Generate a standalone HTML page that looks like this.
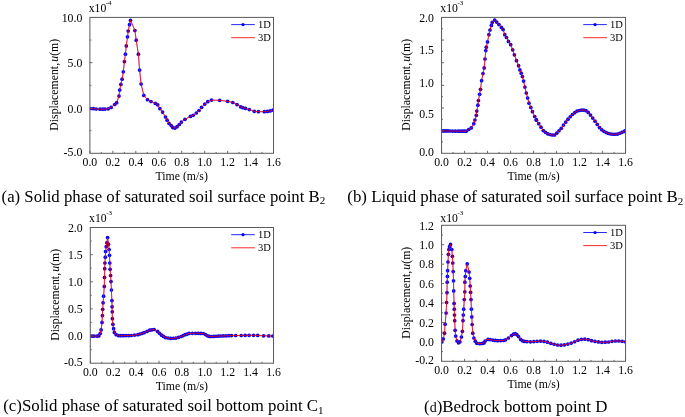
<!DOCTYPE html>
<html><head><meta charset="utf-8"><title>Figure</title>
<style>html,body{margin:0;padding:0;background:#fff;font-family:"Liberation Serif",serif}svg{display:block;will-change:transform;opacity:0.999}</style>
</head><body>
<svg width="685" height="417" viewBox="0 0 685 417" font-family="'Liberation Serif', serif" fill="#000000">
<rect width="685" height="417" fill="#ffffff"/>
<text x="89.90" y="165.80" font-size="11.8" text-anchor="middle" >0.0</text>
<text x="112.85" y="165.80" font-size="11.8" text-anchor="middle" >0.2</text>
<text x="135.80" y="165.80" font-size="11.8" text-anchor="middle" >0.4</text>
<text x="158.75" y="165.80" font-size="11.8" text-anchor="middle" >0.6</text>
<text x="181.70" y="165.80" font-size="11.8" text-anchor="middle" >0.8</text>
<text x="204.65" y="165.80" font-size="11.8" text-anchor="middle" >1.0</text>
<text x="227.60" y="165.80" font-size="11.8" text-anchor="middle" >1.2</text>
<text x="250.55" y="165.80" font-size="11.8" text-anchor="middle" >1.4</text>
<text x="273.50" y="165.80" font-size="11.8" text-anchor="middle" >1.6</text>
<text x="82.30" y="21.50" font-size="11.8" text-anchor="end" >10.0</text>
<text x="82.30" y="66.60" font-size="11.8" text-anchor="end" >5.0</text>
<text x="82.30" y="112.80" font-size="11.8" text-anchor="end" >0.0</text>
<text x="82.30" y="156.00" font-size="11.8" text-anchor="end" >-5.0</text>
<text x="88.70" y="11.70" font-size="11.7">x10<tspan font-size="7" dy="-7.0" dx="-0.5">-4</tspan></text>
<text x="181.70" y="180.40" font-size="11.8" text-anchor="middle" >Time (m/s)</text>
<text transform="translate(58.40,84.75) rotate(-90)" font-size="11.8" text-anchor="middle">Displacement,<tspan font-style="italic" dx="1.2">u</tspan>(m)</text>
<path d="M231.20,24.60H254.80" stroke="#0000ff" stroke-width="0.85"/>
<circle cx="243.00" cy="24.60" r="1.6" fill="#0000ff"/>
<path d="M231.20,37.70H254.80" stroke="#ff0000" stroke-width="0.85"/>
<text x="258.00" y="28.20" font-size="10.5" text-anchor="start" >1D</text>
<text x="258.00" y="41.30" font-size="10.5" text-anchor="start" >3D</text>
<clipPath id="c1"><rect x="89.90" y="17.40" width="183.60" height="135.90"/></clipPath>
<g clip-path="url(#c1)">
<path d="M90.4,108.5 93.3,108.7 96.2,109.0 100.0,109.2 102.7,109.2 105.0,109.1 108.2,108.8 111.1,107.4 114.7,104.5 116.7,102.7 119.0,96.1 119.7,90.1 120.9,84.4 122.1,79.2 123.3,71.8 124.4,61.6 125.4,54.2 126.3,45.9 127.5,36.8 128.2,31.0 129.5,24.7 130.5,20.3 134.9,30.5 136.2,40.2 138.4,54.2 139.6,70.1 141.1,84.0 143.8,95.4 147.5,99.7 151.0,101.5 155.3,103.4 157.7,104.8 159.9,108.7 162.6,112.1 165.5,117.0 167.1,120.2 169.0,123.4 171.2,125.6 172.8,127.6 175.0,128.1 177.1,126.7 179.3,124.5 181.4,122.1 185.0,119.3 190.4,116.4 193.1,115.3 196.3,113.0 199.0,110.5 201.6,107.3 204.8,104.1 207.8,101.7 211.5,100.1 219.7,100.3 227.6,101.3 232.8,102.5 237.0,104.6 240.6,106.8 242.8,107.7 245.5,108.4 249.3,109.6 254.3,111.3 258.4,111.7 264.3,111.7 267.4,111.4 270.1,110.9 272.9,110.1" stroke="#0000ff" stroke-width="0.4" fill="none"/>
<g fill="#0000ff"><circle cx="90.40" cy="108.50" r="1.85"/><circle cx="93.30" cy="108.70" r="1.85"/><circle cx="96.20" cy="109.00" r="1.85"/><circle cx="100.00" cy="109.20" r="1.85"/><circle cx="102.70" cy="109.20" r="1.85"/><circle cx="105.00" cy="109.10" r="1.85"/><circle cx="108.20" cy="108.80" r="1.85"/><circle cx="111.10" cy="107.40" r="1.85"/><circle cx="114.70" cy="104.50" r="1.85"/><circle cx="116.70" cy="102.70" r="1.85"/><circle cx="119.00" cy="96.10" r="1.85"/><circle cx="119.70" cy="90.10" r="1.85"/><circle cx="120.90" cy="84.40" r="1.85"/><circle cx="122.10" cy="79.20" r="1.85"/><circle cx="123.30" cy="71.80" r="1.85"/><circle cx="124.40" cy="61.60" r="1.85"/><circle cx="125.40" cy="54.20" r="1.85"/><circle cx="126.30" cy="45.90" r="1.85"/><circle cx="127.50" cy="36.80" r="1.85"/><circle cx="128.20" cy="31.00" r="1.85"/><circle cx="129.50" cy="24.70" r="1.85"/><circle cx="130.50" cy="20.30" r="1.85"/><circle cx="134.90" cy="30.50" r="1.85"/><circle cx="136.20" cy="40.20" r="1.85"/><circle cx="138.40" cy="54.20" r="1.85"/><circle cx="139.60" cy="70.10" r="1.85"/><circle cx="141.10" cy="84.00" r="1.85"/><circle cx="143.80" cy="95.40" r="1.85"/><circle cx="147.50" cy="99.70" r="1.85"/><circle cx="151.00" cy="101.50" r="1.85"/><circle cx="155.30" cy="103.40" r="1.85"/><circle cx="157.70" cy="104.80" r="1.85"/><circle cx="159.90" cy="108.70" r="1.85"/><circle cx="162.60" cy="112.10" r="1.85"/><circle cx="165.50" cy="117.00" r="1.85"/><circle cx="167.10" cy="120.20" r="1.85"/><circle cx="169.00" cy="123.40" r="1.85"/><circle cx="171.20" cy="125.60" r="1.85"/><circle cx="172.80" cy="127.60" r="1.85"/><circle cx="175.00" cy="128.10" r="1.85"/><circle cx="177.10" cy="126.70" r="1.85"/><circle cx="179.30" cy="124.50" r="1.85"/><circle cx="181.40" cy="122.10" r="1.85"/><circle cx="185.00" cy="119.30" r="1.85"/><circle cx="190.40" cy="116.40" r="1.85"/><circle cx="193.10" cy="115.30" r="1.85"/><circle cx="196.30" cy="113.00" r="1.85"/><circle cx="199.00" cy="110.50" r="1.85"/><circle cx="201.60" cy="107.30" r="1.85"/><circle cx="204.80" cy="104.10" r="1.85"/><circle cx="207.80" cy="101.70" r="1.85"/><circle cx="211.50" cy="100.10" r="1.85"/><circle cx="219.70" cy="100.30" r="1.85"/><circle cx="227.60" cy="101.30" r="1.85"/><circle cx="232.80" cy="102.50" r="1.85"/><circle cx="237.00" cy="104.60" r="1.85"/><circle cx="240.60" cy="106.80" r="1.85"/><circle cx="242.80" cy="107.70" r="1.85"/><circle cx="245.50" cy="108.40" r="1.85"/><circle cx="249.30" cy="109.60" r="1.85"/><circle cx="254.30" cy="111.30" r="1.85"/><circle cx="258.40" cy="111.70" r="1.85"/><circle cx="264.30" cy="111.70" r="1.85"/><circle cx="267.40" cy="111.40" r="1.85"/><circle cx="270.10" cy="110.90" r="1.85"/><circle cx="272.90" cy="110.10" r="1.85"/></g>
<path d="M90.4,108.5 93.3,108.7 96.2,109.0 100.0,109.2 102.7,109.2 105.0,109.1 108.2,108.8 111.1,107.4 114.7,104.5 116.7,102.7 119.0,96.1 119.7,90.1 120.9,84.4 122.1,79.2 123.3,71.8 124.4,61.6 125.4,54.2 126.3,45.9 127.5,36.8 128.2,31.0 129.5,24.7 130.5,20.3 134.9,30.5 136.2,40.2 138.4,54.2 139.6,70.1 141.1,84.0 143.8,95.4 147.5,99.7 151.0,101.5 155.3,103.4 157.7,104.8 159.9,108.7 162.6,112.1 165.5,117.0 167.1,120.2 169.0,123.4 171.2,125.6 172.8,127.6 175.0,128.1 177.1,126.7 179.3,124.5 181.4,122.1 185.0,119.3 190.4,116.4 193.1,115.3 196.3,113.0 199.0,110.5 201.6,107.3 204.8,104.1 207.8,101.7 211.5,100.1 219.7,100.3 227.6,101.3 232.8,102.5 237.0,104.6 240.6,106.8 242.8,107.7 245.5,108.4 249.3,109.6 254.3,111.3 258.4,111.7 264.3,111.7 267.4,111.4 270.1,110.9 272.9,110.1" stroke="#ff0000" stroke-width="0.8" fill="none" stroke-linejoin="round"/>
</g>
<rect x="89.90" y="17.40" width="183.60" height="135.90" fill="none" stroke="#5a5a5a" stroke-width="1"/>
<path d="M89.90,153.30v-2.5M101.38,153.30v-1.4M112.85,153.30v-2.5M124.33,153.30v-1.4M135.80,153.30v-2.5M147.28,153.30v-1.4M158.75,153.30v-2.5M170.23,153.30v-1.4M181.70,153.30v-2.5M193.18,153.30v-1.4M204.65,153.30v-2.5M216.12,153.30v-1.4M227.60,153.30v-2.5M239.07,153.30v-1.4M250.55,153.30v-2.5M262.02,153.30v-1.4M273.50,153.30v-2.5M89.90,40.05h1.4M89.90,62.70h2.5M89.90,85.35h1.4M89.90,108.00h2.5M89.90,130.65h1.4" stroke="#5a5a5a" stroke-width="0.9" fill="none"/>
<text x="1.60" y="202.20" font-size="16.75" text-anchor="start" >(a) Solid phase of saturated soil surface point B<tspan font-size="11" dy="2.2">2</tspan></text>
<text x="441.55" y="165.80" font-size="11.8" text-anchor="middle" >0.0</text>
<text x="464.55" y="165.80" font-size="11.8" text-anchor="middle" >0.2</text>
<text x="487.55" y="165.80" font-size="11.8" text-anchor="middle" >0.4</text>
<text x="510.55" y="165.80" font-size="11.8" text-anchor="middle" >0.6</text>
<text x="533.55" y="165.80" font-size="11.8" text-anchor="middle" >0.8</text>
<text x="556.55" y="165.80" font-size="11.8" text-anchor="middle" >1.0</text>
<text x="579.55" y="165.80" font-size="11.8" text-anchor="middle" >1.2</text>
<text x="602.55" y="165.80" font-size="11.8" text-anchor="middle" >1.4</text>
<text x="625.55" y="165.80" font-size="11.8" text-anchor="middle" >1.6</text>
<text x="433.95" y="21.60" font-size="11.8" text-anchor="end" >2.0</text>
<text x="433.95" y="54.20" font-size="11.8" text-anchor="end" >1.5</text>
<text x="433.95" y="86.50" font-size="11.8" text-anchor="end" >1.0</text>
<text x="433.95" y="118.30" font-size="11.8" text-anchor="end" >0.5</text>
<text x="433.95" y="155.80" font-size="11.8" text-anchor="end" >0.0</text>
<text x="440.35" y="11.70" font-size="11.7">x10<tspan font-size="7" dy="-7.0" dx="-0.5">-3</tspan></text>
<text x="533.55" y="180.40" font-size="11.8" text-anchor="middle" >Time (m/s)</text>
<text transform="translate(410.05,84.75) rotate(-90)" font-size="11.8" text-anchor="middle">Displacement,<tspan font-style="italic" dx="1.2">u</tspan>(m)</text>
<path d="M583.25,24.60H606.85" stroke="#0000ff" stroke-width="0.85"/>
<circle cx="595.05" cy="24.60" r="1.6" fill="#0000ff"/>
<path d="M583.25,37.70H606.85" stroke="#ff0000" stroke-width="0.85"/>
<text x="610.05" y="28.20" font-size="10.5" text-anchor="start" >1D</text>
<text x="610.05" y="41.30" font-size="10.5" text-anchor="start" >3D</text>
<clipPath id="c2"><rect x="441.55" y="17.40" width="184.00" height="135.90"/></clipPath>
<g clip-path="url(#c2)">
<path d="M441.7,130.9 450.0,131.0 458.0,131.2 466.2,131.2 468.7,129.5 471.2,127.9 473.8,123.7 474.9,120.0 476.3,115.3 476.8,111.1 477.9,105.2 478.4,100.5 479.6,94.3 480.5,89.3 481.6,80.7 483.0,73.6 484.2,67.9 485.0,59.0 485.8,50.6 486.3,47.2 487.5,41.9 488.9,34.7 490.0,30.0 491.4,25.4 492.2,22.4 494.7,20.1 496.7,22.1 498.9,24.6 501.4,27.4 503.1,29.6 504.8,34.7 506.5,37.5 508.5,41.4 510.7,44.7 512.7,49.8 514.4,54.8 516.5,60.7 518.6,65.7 519.9,69.9 521.2,73.2 522.4,76.6 523.6,81.1 524.9,87.1 526.3,93.0 527.6,98.0 529.0,103.2 530.8,107.4 532.5,111.7 534.7,116.5 536.2,119.7 540.3,126.1 543.5,131.0 547.5,133.7 551.5,135.0 554.7,135.0 557.9,132.1 561.1,128.5 564.3,124.0 567.1,120.2 570.0,117.0 573.2,113.8 577.2,110.9 581.2,110.1 585.2,110.1 588.4,112.5 591.6,116.5 595.7,122.1 599.2,127.3 602.1,130.1 605.3,132.2 609.3,133.8 613.3,134.3 617.3,134.2 621.4,132.6 625.4,130.8" stroke="#0000ff" stroke-width="0.4" fill="none"/>
<g fill="#0000ff"><circle cx="441.70" cy="130.90" r="1.85"/><circle cx="443.77" cy="130.93" r="1.85"/><circle cx="445.85" cy="130.95" r="1.85"/><circle cx="447.93" cy="130.97" r="1.85"/><circle cx="450.00" cy="131.00" r="1.85"/><circle cx="452.67" cy="131.07" r="1.85"/><circle cx="455.33" cy="131.13" r="1.85"/><circle cx="458.00" cy="131.20" r="1.85"/><circle cx="460.05" cy="131.20" r="1.85"/><circle cx="462.10" cy="131.20" r="1.85"/><circle cx="464.15" cy="131.20" r="1.85"/><circle cx="466.20" cy="131.20" r="1.85"/><circle cx="468.70" cy="129.50" r="1.85"/><circle cx="471.20" cy="127.90" r="1.85"/><circle cx="473.80" cy="123.70" r="1.85"/><circle cx="474.90" cy="120.00" r="1.85"/><circle cx="476.30" cy="115.30" r="1.85"/><circle cx="476.80" cy="111.10" r="1.85"/><circle cx="477.90" cy="105.20" r="1.85"/><circle cx="478.40" cy="100.50" r="1.85"/><circle cx="479.60" cy="94.30" r="1.85"/><circle cx="480.50" cy="89.30" r="1.85"/><circle cx="481.60" cy="80.70" r="1.85"/><circle cx="483.00" cy="73.60" r="1.85"/><circle cx="484.20" cy="67.90" r="1.85"/><circle cx="485.00" cy="59.00" r="1.85"/><circle cx="485.80" cy="50.60" r="1.85"/><circle cx="486.30" cy="47.20" r="1.85"/><circle cx="487.50" cy="41.90" r="1.85"/><circle cx="488.90" cy="34.70" r="1.85"/><circle cx="490.00" cy="30.00" r="1.85"/><circle cx="491.40" cy="25.40" r="1.85"/><circle cx="492.20" cy="22.40" r="1.85"/><circle cx="494.70" cy="20.10" r="1.85"/><circle cx="496.70" cy="22.10" r="1.85"/><circle cx="498.90" cy="24.60" r="1.85"/><circle cx="501.40" cy="27.40" r="1.85"/><circle cx="503.10" cy="29.60" r="1.85"/><circle cx="504.80" cy="34.70" r="1.85"/><circle cx="506.50" cy="37.50" r="1.85"/><circle cx="508.50" cy="41.40" r="1.85"/><circle cx="510.70" cy="44.70" r="1.85"/><circle cx="512.70" cy="49.80" r="1.85"/><circle cx="514.40" cy="54.80" r="1.85"/><circle cx="516.50" cy="60.70" r="1.85"/><circle cx="518.60" cy="65.70" r="1.85"/><circle cx="519.90" cy="69.90" r="1.85"/><circle cx="521.20" cy="73.20" r="1.85"/><circle cx="522.40" cy="76.60" r="1.85"/><circle cx="523.60" cy="81.10" r="1.85"/><circle cx="524.90" cy="87.10" r="1.85"/><circle cx="526.30" cy="93.00" r="1.85"/><circle cx="527.60" cy="98.00" r="1.85"/><circle cx="529.00" cy="103.20" r="1.85"/><circle cx="530.80" cy="107.40" r="1.85"/><circle cx="532.50" cy="111.70" r="1.85"/><circle cx="534.70" cy="116.50" r="1.85"/><circle cx="536.20" cy="119.70" r="1.85"/><circle cx="536.50" cy="120.17" r="1.85"/><circle cx="538.75" cy="123.68" r="1.85"/><circle cx="541.00" cy="127.17" r="1.85"/><circle cx="543.25" cy="130.62" r="1.85"/><circle cx="545.50" cy="132.35" r="1.85"/><circle cx="547.75" cy="133.78" r="1.85"/><circle cx="550.00" cy="134.51" r="1.85"/><circle cx="552.25" cy="135.00" r="1.85"/><circle cx="554.50" cy="135.00" r="1.85"/><circle cx="556.75" cy="133.14" r="1.85"/><circle cx="559.00" cy="130.86" r="1.85"/><circle cx="561.25" cy="128.29" r="1.85"/><circle cx="563.50" cy="125.12" r="1.85"/><circle cx="565.75" cy="122.03" r="1.85"/><circle cx="568.00" cy="119.21" r="1.85"/><circle cx="570.25" cy="116.75" r="1.85"/><circle cx="572.50" cy="114.50" r="1.85"/><circle cx="574.75" cy="112.68" r="1.85"/><circle cx="577.00" cy="111.05" r="1.85"/><circle cx="579.25" cy="110.49" r="1.85"/><circle cx="581.50" cy="110.10" r="1.85"/><circle cx="583.75" cy="110.10" r="1.85"/><circle cx="586.00" cy="110.70" r="1.85"/><circle cx="588.25" cy="112.39" r="1.85"/><circle cx="590.50" cy="115.12" r="1.85"/><circle cx="592.75" cy="118.07" r="1.85"/><circle cx="595.00" cy="121.14" r="1.85"/><circle cx="597.25" cy="124.40" r="1.85"/><circle cx="599.50" cy="127.59" r="1.85"/><circle cx="601.75" cy="129.76" r="1.85"/><circle cx="604.00" cy="131.35" r="1.85"/><circle cx="606.25" cy="132.58" r="1.85"/><circle cx="608.50" cy="133.48" r="1.85"/><circle cx="610.75" cy="133.98" r="1.85"/><circle cx="613.00" cy="134.26" r="1.85"/><circle cx="615.25" cy="134.25" r="1.85"/><circle cx="617.50" cy="134.12" r="1.85"/><circle cx="619.75" cy="133.24" r="1.85"/><circle cx="622.00" cy="132.33" r="1.85"/><circle cx="624.25" cy="131.32" r="1.85"/><circle cx="625.40" cy="130.80" r="1.85"/></g>
<path d="M441.7,130.9 450.0,131.0 458.0,131.2 466.2,131.2 468.7,129.5 471.2,127.9 473.8,123.7 474.9,120.0 476.3,115.3 476.8,111.1 477.9,105.2 478.4,100.5 479.6,94.3 480.5,89.3 481.6,80.7 483.0,73.6 484.2,67.9 485.0,59.0 485.8,50.6 486.3,47.2 487.5,41.9 488.9,34.7 490.0,30.0 491.4,25.4 492.2,22.4 494.7,20.1 496.7,22.1 498.9,24.6 501.4,27.4 503.1,29.6 504.8,34.7 506.5,37.5 508.5,41.4 510.7,44.7 512.7,49.8 514.4,54.8 516.5,60.7 518.6,65.7 519.9,69.9 521.2,73.2 522.4,76.6 523.6,81.1 524.9,87.1 526.3,93.0 527.6,98.0 529.0,103.2 530.8,107.4 532.5,111.7 534.7,116.5 536.2,119.7 540.3,126.1 543.5,131.0 547.5,133.7 551.5,135.0 554.7,135.0 557.9,132.1 561.1,128.5 564.3,124.0 567.1,120.2 570.0,117.0 573.2,113.8 577.2,110.9 581.2,110.1 585.2,110.1 588.4,112.5 591.6,116.5 595.7,122.1 599.2,127.3 602.1,130.1 605.3,132.2 609.3,133.8 613.3,134.3 617.3,134.2 621.4,132.6 625.4,130.8" stroke="#ff0000" stroke-width="0.8" fill="none" stroke-linejoin="round"/>
</g>
<rect x="441.55" y="17.40" width="184.00" height="135.90" fill="none" stroke="#5a5a5a" stroke-width="1"/>
<path d="M441.55,153.30v-2.5M453.05,153.30v-1.4M464.55,153.30v-2.5M476.05,153.30v-1.4M487.55,153.30v-2.5M499.05,153.30v-1.4M510.55,153.30v-2.5M522.05,153.30v-1.4M533.55,153.30v-2.5M545.05,153.30v-1.4M556.55,153.30v-2.5M568.05,153.30v-1.4M579.55,153.30v-2.5M591.05,153.30v-1.4M602.55,153.30v-2.5M614.05,153.30v-1.4M625.55,153.30v-2.5M441.55,28.73h1.4M441.55,40.05h2.5M441.55,51.38h1.4M441.55,62.70h2.5M441.55,74.03h1.4M441.55,85.35h2.5M441.55,96.68h1.4M441.55,108.00h2.5M441.55,119.33h1.4M441.55,130.65h2.5M441.55,141.98h1.4" stroke="#5a5a5a" stroke-width="0.9" fill="none"/>
<text x="347.30" y="202.40" font-size="16.88" text-anchor="start" >(b) Liquid phase of saturated soil surface point B<tspan font-size="11" dy="2.2">2</tspan></text>
<text x="90.30" y="375.70" font-size="11.8" text-anchor="middle" >0.0</text>
<text x="113.20" y="375.70" font-size="11.8" text-anchor="middle" >0.2</text>
<text x="136.10" y="375.70" font-size="11.8" text-anchor="middle" >0.4</text>
<text x="159.00" y="375.70" font-size="11.8" text-anchor="middle" >0.6</text>
<text x="181.90" y="375.70" font-size="11.8" text-anchor="middle" >0.8</text>
<text x="204.80" y="375.70" font-size="11.8" text-anchor="middle" >1.0</text>
<text x="227.70" y="375.70" font-size="11.8" text-anchor="middle" >1.2</text>
<text x="250.60" y="375.70" font-size="11.8" text-anchor="middle" >1.4</text>
<text x="273.50" y="375.70" font-size="11.8" text-anchor="middle" >1.6</text>
<text x="82.70" y="231.90" font-size="11.8" text-anchor="end" >2.0</text>
<text x="82.70" y="258.54" font-size="11.8" text-anchor="end" >1.5</text>
<text x="82.70" y="285.68" font-size="11.8" text-anchor="end" >1.0</text>
<text x="82.70" y="312.82" font-size="11.8" text-anchor="end" >0.5</text>
<text x="82.70" y="339.96" font-size="11.8" text-anchor="end" >0.0</text>
<text x="82.70" y="365.90" font-size="11.8" text-anchor="end" >-0.5</text>
<text x="89.10" y="221.80" font-size="11.7">x10<tspan font-size="7" dy="-7.0" dx="-0.5">-3</tspan></text>
<text x="181.90" y="390.30" font-size="11.8" text-anchor="middle" >Time (m/s)</text>
<text transform="translate(58.80,294.75) rotate(-90)" font-size="11.8" text-anchor="middle">Displacement,<tspan font-style="italic" dx="1.2">u</tspan>(m)</text>
<path d="M231.20,234.70H254.80" stroke="#0000ff" stroke-width="0.85"/>
<circle cx="243.00" cy="234.70" r="1.6" fill="#0000ff"/>
<path d="M231.20,247.80H254.80" stroke="#ff0000" stroke-width="0.85"/>
<text x="258.00" y="238.30" font-size="10.5" text-anchor="start" >1D</text>
<text x="258.00" y="251.40" font-size="10.5" text-anchor="start" >3D</text>
<clipPath id="c3"><rect x="90.30" y="227.50" width="183.20" height="135.70"/></clipPath>
<g clip-path="url(#c3)">
<path d="M90.0,336.1 94.0,336.1 97.0,336.1 98.8,335.9 100.2,333.6 101.1,329.9 102.0,322.4 102.4,315.6 102.7,309.3 103.1,302.8 103.6,296.2 104.3,286.4 104.5,277.4 104.7,268.7 104.9,263.0 105.3,257.2 105.6,251.5 106.2,246.7 106.8,242.8 107.6,237.6 108.5,244.2 109.1,249.5 109.5,255.3 109.8,263.0 110.1,269.3 110.6,275.5 111.0,281.6 111.4,290.0 111.9,300.6 112.1,306.8 112.2,311.8 112.4,318.7 112.9,324.3 113.6,328.7 114.4,332.4 116.1,334.7 118.5,335.6 120.8,335.7 131.3,335.5 137.8,334.7 144.4,332.6 149.7,330.2 154.1,329.5 157.5,331.3 161.5,335.2 165.4,337.6 170.7,338.4 175.9,338.1 181.2,336.5 185.1,334.7 189.1,333.4 195.6,333.3 203.3,333.5 205.5,334.6 207.5,335.8 209.5,336.4 211.4,336.5 220.6,336.0 231.5,335.6 235.7,335.5 241.2,335.5 245.2,335.3 249.1,335.3 253.5,335.3 257.7,335.4 263.6,335.8 268.8,335.9 272.8,336.0" stroke="#0000ff" stroke-width="0.4" fill="none"/>
<g fill="#0000ff"><circle cx="90.00" cy="336.10" r="1.85"/><circle cx="92.00" cy="336.10" r="1.85"/><circle cx="94.00" cy="336.10" r="1.85"/><circle cx="97.00" cy="336.10" r="1.85"/><circle cx="98.80" cy="335.90" r="1.85"/><circle cx="100.20" cy="333.60" r="1.85"/><circle cx="101.10" cy="329.90" r="1.85"/><circle cx="102.00" cy="322.40" r="1.85"/><circle cx="102.40" cy="315.60" r="1.85"/><circle cx="102.70" cy="309.30" r="1.85"/><circle cx="103.10" cy="302.80" r="1.85"/><circle cx="103.60" cy="296.20" r="1.85"/><circle cx="104.30" cy="286.40" r="1.85"/><circle cx="104.50" cy="277.40" r="1.85"/><circle cx="104.70" cy="268.70" r="1.85"/><circle cx="104.90" cy="263.00" r="1.85"/><circle cx="105.30" cy="257.20" r="1.85"/><circle cx="105.60" cy="251.50" r="1.85"/><circle cx="106.20" cy="246.70" r="1.85"/><circle cx="106.80" cy="242.80" r="1.85"/><circle cx="107.60" cy="237.60" r="1.85"/><circle cx="108.50" cy="244.20" r="1.85"/><circle cx="109.10" cy="249.50" r="1.85"/><circle cx="109.50" cy="255.30" r="1.85"/><circle cx="109.80" cy="263.00" r="1.85"/><circle cx="110.10" cy="269.30" r="1.85"/><circle cx="110.60" cy="275.50" r="1.85"/><circle cx="111.00" cy="281.60" r="1.85"/><circle cx="111.40" cy="290.00" r="1.85"/><circle cx="111.90" cy="300.60" r="1.85"/><circle cx="112.10" cy="306.80" r="1.85"/><circle cx="112.25" cy="311.80" r="1.85"/><circle cx="112.40" cy="318.70" r="1.85"/><circle cx="112.90" cy="324.30" r="1.85"/><circle cx="113.60" cy="328.70" r="1.85"/><circle cx="114.40" cy="332.40" r="1.85"/><circle cx="116.10" cy="334.70" r="1.85"/><circle cx="118.50" cy="335.60" r="1.85"/><circle cx="120.80" cy="335.70" r="1.85"/><circle cx="123.42" cy="335.65" r="1.85"/><circle cx="126.05" cy="335.60" r="1.85"/><circle cx="128.68" cy="335.55" r="1.85"/><circle cx="131.30" cy="335.50" r="1.85"/><circle cx="134.55" cy="335.10" r="1.85"/><circle cx="137.80" cy="334.70" r="1.85"/><circle cx="140.00" cy="334.00" r="1.85"/><circle cx="142.20" cy="333.30" r="1.85"/><circle cx="144.40" cy="332.60" r="1.85"/><circle cx="147.05" cy="331.40" r="1.85"/><circle cx="149.70" cy="330.20" r="1.85"/><circle cx="151.90" cy="329.85" r="1.85"/><circle cx="154.10" cy="329.50" r="1.85"/><circle cx="157.50" cy="331.30" r="1.85"/><circle cx="159.50" cy="333.25" r="1.85"/><circle cx="161.50" cy="335.20" r="1.85"/><circle cx="163.45" cy="336.40" r="1.85"/><circle cx="165.40" cy="337.60" r="1.85"/><circle cx="168.05" cy="338.00" r="1.85"/><circle cx="170.70" cy="338.40" r="1.85"/><circle cx="173.30" cy="338.25" r="1.85"/><circle cx="175.90" cy="338.10" r="1.85"/><circle cx="178.55" cy="337.30" r="1.85"/><circle cx="181.20" cy="336.50" r="1.85"/><circle cx="183.15" cy="335.60" r="1.85"/><circle cx="185.10" cy="334.70" r="1.85"/><circle cx="187.10" cy="334.05" r="1.85"/><circle cx="189.10" cy="333.40" r="1.85"/><circle cx="192.35" cy="333.35" r="1.85"/><circle cx="195.60" cy="333.30" r="1.85"/><circle cx="198.17" cy="333.37" r="1.85"/><circle cx="200.73" cy="333.43" r="1.85"/><circle cx="203.30" cy="333.50" r="1.85"/><circle cx="205.50" cy="334.60" r="1.85"/><circle cx="207.50" cy="335.80" r="1.85"/><circle cx="209.50" cy="336.40" r="1.85"/><circle cx="211.40" cy="336.50" r="1.85"/><circle cx="213.70" cy="336.38" r="1.85"/><circle cx="216.00" cy="336.25" r="1.85"/><circle cx="218.30" cy="336.12" r="1.85"/><circle cx="220.60" cy="336.00" r="1.85"/><circle cx="223.32" cy="335.90" r="1.85"/><circle cx="226.05" cy="335.80" r="1.85"/><circle cx="228.78" cy="335.70" r="1.85"/><circle cx="231.50" cy="335.60" r="1.85"/><circle cx="235.70" cy="335.50" r="1.85"/><circle cx="241.20" cy="335.50" r="1.85"/><circle cx="245.20" cy="335.30" r="1.85"/><circle cx="249.10" cy="335.30" r="1.85"/><circle cx="253.50" cy="335.30" r="1.85"/><circle cx="257.70" cy="335.40" r="1.85"/><circle cx="263.60" cy="335.80" r="1.85"/><circle cx="268.80" cy="335.90" r="1.85"/><circle cx="272.80" cy="336.00" r="1.85"/></g>
<path d="M90.0,336.1 94.0,336.1 97.0,336.1 98.8,335.9 100.2,333.6 101.1,329.9 102.0,322.4 102.4,315.6 102.7,309.3 103.1,302.8 103.6,296.2 104.3,286.4 104.5,277.4 104.7,268.7 104.9,263.0 105.3,257.2 105.6,251.5 106.2,246.7 106.8,242.8 107.6,237.6 108.5,244.2 109.1,249.5 109.5,255.3 109.8,263.0 110.1,269.3 110.6,275.5 111.0,281.6 111.4,290.0 111.9,300.6 112.1,306.8 112.2,311.8 112.4,318.7 112.9,324.3 113.6,328.7 114.4,332.4 116.1,334.7 118.5,335.6 120.8,335.7 131.3,335.5 137.8,334.7 144.4,332.6 149.7,330.2 154.1,329.5 157.5,331.3 161.5,335.2 165.4,337.6 170.7,338.4 175.9,338.1 181.2,336.5 185.1,334.7 189.1,333.4 195.6,333.3 203.3,333.5 205.5,334.6 207.5,335.8 209.5,336.4 211.4,336.5 220.6,336.0 231.5,335.6 235.7,335.5 241.2,335.5 245.2,335.3 249.1,335.3 253.5,335.3 257.7,335.4 263.6,335.8 268.8,335.9 272.8,336.0" stroke="#ff0000" stroke-width="0.8" fill="none" stroke-linejoin="round"/>
</g>
<rect x="90.30" y="227.50" width="183.20" height="135.70" fill="none" stroke="#5a5a5a" stroke-width="1"/>
<path d="M90.30,363.20v-2.5M101.75,363.20v-1.4M113.20,363.20v-2.5M124.65,363.20v-1.4M136.10,363.20v-2.5M147.55,363.20v-1.4M159.00,363.20v-2.5M170.45,363.20v-1.4M181.90,363.20v-2.5M193.35,363.20v-1.4M204.80,363.20v-2.5M216.25,363.20v-1.4M227.70,363.20v-2.5M239.15,363.20v-1.4M250.60,363.20v-2.5M262.05,363.20v-1.4M273.50,363.20v-2.5M90.30,241.07h1.4M90.30,254.64h2.5M90.30,268.21h1.4M90.30,281.78h2.5M90.30,295.35h1.4M90.30,308.92h2.5M90.30,322.49h1.4M90.30,336.06h2.5M90.30,349.63h1.4" stroke="#5a5a5a" stroke-width="0.9" fill="none"/>
<text x="3.20" y="411.40" font-size="16.85" text-anchor="start" >(c)Solid phase of saturated soil bottom point C<tspan font-size="11" dy="2.2">1</tspan></text>
<text x="441.55" y="373.80" font-size="11.8" text-anchor="middle" >0.0</text>
<text x="464.55" y="373.80" font-size="11.8" text-anchor="middle" >0.2</text>
<text x="487.55" y="373.80" font-size="11.8" text-anchor="middle" >0.4</text>
<text x="510.55" y="373.80" font-size="11.8" text-anchor="middle" >0.6</text>
<text x="533.55" y="373.80" font-size="11.8" text-anchor="middle" >0.8</text>
<text x="556.55" y="373.80" font-size="11.8" text-anchor="middle" >1.0</text>
<text x="579.55" y="373.80" font-size="11.8" text-anchor="middle" >1.2</text>
<text x="602.55" y="373.80" font-size="11.8" text-anchor="middle" >1.4</text>
<text x="625.55" y="373.80" font-size="11.8" text-anchor="middle" >1.6</text>
<text x="433.95" y="230.40" font-size="11.8" text-anchor="end" >1.2</text>
<text x="433.95" y="249.03" font-size="11.8" text-anchor="end" >1.0</text>
<text x="433.95" y="268.46" font-size="11.8" text-anchor="end" >0.8</text>
<text x="433.95" y="287.89" font-size="11.8" text-anchor="end" >0.6</text>
<text x="433.95" y="307.31" font-size="11.8" text-anchor="end" >0.4</text>
<text x="433.95" y="326.74" font-size="11.8" text-anchor="end" >0.2</text>
<text x="433.95" y="346.17" font-size="11.8" text-anchor="end" >0.0</text>
<text x="433.95" y="364.20" font-size="11.8" text-anchor="end" >-0.2</text>
<text x="440.35" y="221.80" font-size="11.7">x10<tspan font-size="7" dy="-7.0" dx="-0.5">-3</tspan></text>
<text x="533.55" y="388.40" font-size="11.8" text-anchor="middle" >Time (m/s)</text>
<text transform="translate(410.05,292.70) rotate(-90)" font-size="11.8" text-anchor="middle">Displacement,<tspan font-style="italic" dx="1.2">u</tspan>(m)</text>
<path d="M583.25,232.50H606.85" stroke="#0000ff" stroke-width="0.85"/>
<circle cx="595.05" cy="232.50" r="1.6" fill="#0000ff"/>
<path d="M583.25,245.60H606.85" stroke="#ff0000" stroke-width="0.85"/>
<text x="610.05" y="236.10" font-size="10.5" text-anchor="start" >1D</text>
<text x="610.05" y="249.20" font-size="10.5" text-anchor="start" >3D</text>
<clipPath id="c4"><rect x="441.55" y="225.30" width="184.00" height="136.00"/></clipPath>
<g clip-path="url(#c4)">
<path d="M441.8,342.0 442.4,341.6 443.2,338.9 444.5,333.2 445.1,324.2 446.1,313.0 446.6,302.5 447.0,292.7 447.2,282.2 447.4,276.4 447.6,270.7 448.0,262.0 448.4,254.3 448.9,249.5 449.5,246.7 450.5,244.4 451.8,249.5 452.4,256.3 452.8,263.0 453.2,271.6 453.5,280.8 453.7,290.9 454.1,303.4 454.3,309.2 454.5,315.0 454.7,320.7 455.1,330.3 455.7,336.1 457.0,340.9 458.5,342.8 459.9,341.8 461.4,337.0 462.4,331.3 463.0,320.7 463.3,315.0 463.7,309.2 464.3,299.6 464.8,291.8 464.9,282.2 465.3,276.4 465.8,270.7 467.2,263.9 469.1,272.0 469.7,278.3 470.2,286.0 470.6,292.3 471.0,299.6 471.4,309.2 471.8,316.9 472.2,324.5 472.8,333.2 473.9,338.0 475.3,341.2 476.8,343.3 479.7,343.7 482.3,343.4 484.0,342.9 485.2,341.0 486.0,339.7 488.0,339.4 490.2,339.6 493.0,340.2 497.7,340.7 503.5,340.5 505.5,339.8 508.4,338.0 511.5,335.6 513.5,334.2 515.2,333.7 516.8,334.6 518.5,336.6 520.7,339.4 522.5,340.8 524.5,341.4 530.7,341.8 541.2,341.0 546.4,341.8 551.7,343.6 557.0,345.0 562.2,345.2 567.5,344.2 572.7,342.6 578.0,340.2 583.2,338.9 588.5,339.7 593.7,341.3 601.6,342.3 608.2,342.1 613.5,341.0 620.0,341.0 625.5,341.8" stroke="#0000ff" stroke-width="0.4" fill="none"/>
<g fill="#0000ff"><circle cx="441.80" cy="342.00" r="1.85"/><circle cx="443.20" cy="338.90" r="1.85"/><circle cx="444.50" cy="333.20" r="1.85"/><circle cx="445.10" cy="324.20" r="1.85"/><circle cx="446.10" cy="313.00" r="1.85"/><circle cx="446.60" cy="302.50" r="1.85"/><circle cx="447.00" cy="292.70" r="1.85"/><circle cx="447.20" cy="282.20" r="1.85"/><circle cx="447.40" cy="276.40" r="1.85"/><circle cx="447.60" cy="270.70" r="1.85"/><circle cx="448.00" cy="262.00" r="1.85"/><circle cx="448.40" cy="254.30" r="1.85"/><circle cx="448.90" cy="249.50" r="1.85"/><circle cx="449.50" cy="246.70" r="1.85"/><circle cx="450.50" cy="244.40" r="1.85"/><circle cx="451.80" cy="249.50" r="1.85"/><circle cx="452.40" cy="256.30" r="1.85"/><circle cx="452.80" cy="263.00" r="1.85"/><circle cx="453.20" cy="271.60" r="1.85"/><circle cx="453.50" cy="280.80" r="1.85"/><circle cx="453.70" cy="290.90" r="1.85"/><circle cx="454.10" cy="303.40" r="1.85"/><circle cx="454.30" cy="309.20" r="1.85"/><circle cx="454.50" cy="315.00" r="1.85"/><circle cx="454.70" cy="320.70" r="1.85"/><circle cx="455.10" cy="330.30" r="1.85"/><circle cx="455.70" cy="336.10" r="1.85"/><circle cx="457.00" cy="340.90" r="1.85"/><circle cx="458.50" cy="342.80" r="1.85"/><circle cx="459.90" cy="341.80" r="1.85"/><circle cx="461.40" cy="337.00" r="1.85"/><circle cx="462.40" cy="331.30" r="1.85"/><circle cx="463.00" cy="320.70" r="1.85"/><circle cx="463.30" cy="315.00" r="1.85"/><circle cx="463.70" cy="309.20" r="1.85"/><circle cx="464.30" cy="299.60" r="1.85"/><circle cx="464.80" cy="291.80" r="1.85"/><circle cx="464.90" cy="282.20" r="1.85"/><circle cx="465.30" cy="276.40" r="1.85"/><circle cx="465.80" cy="270.70" r="1.85"/><circle cx="467.20" cy="263.90" r="1.85"/><circle cx="469.10" cy="272.00" r="1.85"/><circle cx="469.70" cy="278.30" r="1.85"/><circle cx="470.20" cy="286.00" r="1.85"/><circle cx="470.60" cy="292.30" r="1.85"/><circle cx="471.00" cy="299.60" r="1.85"/><circle cx="471.40" cy="309.20" r="1.85"/><circle cx="471.80" cy="316.90" r="1.85"/><circle cx="472.20" cy="324.50" r="1.85"/><circle cx="472.80" cy="333.20" r="1.85"/><circle cx="473.90" cy="338.00" r="1.85"/><circle cx="475.30" cy="341.20" r="1.85"/><circle cx="476.80" cy="343.30" r="1.85"/><circle cx="479.70" cy="343.70" r="1.85"/><circle cx="482.30" cy="343.40" r="1.85"/><circle cx="484.00" cy="342.90" r="1.85"/><circle cx="485.20" cy="341.00" r="1.85"/><circle cx="488.00" cy="339.40" r="1.85"/><circle cx="490.20" cy="339.60" r="1.85"/><circle cx="493.00" cy="340.20" r="1.85"/><circle cx="495.35" cy="340.45" r="1.85"/><circle cx="497.70" cy="340.70" r="1.85"/><circle cx="500.60" cy="340.60" r="1.85"/><circle cx="503.50" cy="340.50" r="1.85"/><circle cx="505.50" cy="339.80" r="1.85"/><circle cx="508.40" cy="338.00" r="1.85"/><circle cx="511.50" cy="335.60" r="1.85"/><circle cx="513.50" cy="334.20" r="1.85"/><circle cx="515.20" cy="333.70" r="1.85"/><circle cx="516.80" cy="334.60" r="1.85"/><circle cx="518.50" cy="336.60" r="1.85"/><circle cx="520.70" cy="339.40" r="1.85"/><circle cx="522.50" cy="340.80" r="1.85"/><circle cx="524.50" cy="341.40" r="1.85"/><circle cx="527.00" cy="341.56" r="1.85"/><circle cx="530.40" cy="341.78" r="1.85"/><circle cx="533.80" cy="341.56" r="1.85"/><circle cx="537.20" cy="341.30" r="1.85"/><circle cx="540.60" cy="341.05" r="1.85"/><circle cx="544.00" cy="341.43" r="1.85"/><circle cx="547.40" cy="342.14" r="1.85"/><circle cx="550.80" cy="343.29" r="1.85"/><circle cx="554.20" cy="344.26" r="1.85"/><circle cx="557.60" cy="345.02" r="1.85"/><circle cx="561.00" cy="345.15" r="1.85"/><circle cx="564.40" cy="344.78" r="1.85"/><circle cx="567.80" cy="344.11" r="1.85"/><circle cx="571.20" cy="343.06" r="1.85"/><circle cx="574.60" cy="341.74" r="1.85"/><circle cx="578.00" cy="340.20" r="1.85"/><circle cx="581.40" cy="339.35" r="1.85"/><circle cx="584.80" cy="339.14" r="1.85"/><circle cx="588.20" cy="339.65" r="1.85"/><circle cx="591.60" cy="340.65" r="1.85"/><circle cx="595.00" cy="341.46" r="1.85"/><circle cx="598.40" cy="341.89" r="1.85"/><circle cx="601.80" cy="342.29" r="1.85"/><circle cx="605.20" cy="342.19" r="1.85"/><circle cx="608.60" cy="342.02" r="1.85"/><circle cx="612.00" cy="341.31" r="1.85"/><circle cx="615.40" cy="341.00" r="1.85"/><circle cx="618.80" cy="341.00" r="1.85"/><circle cx="622.20" cy="341.32" r="1.85"/><circle cx="625.50" cy="341.80" r="1.85"/></g>
<path d="M441.8,342.0 442.4,341.6 443.2,338.9 444.5,333.2 445.1,324.2 446.1,313.0 446.6,302.5 447.0,292.7 447.2,282.2 447.4,276.4 447.6,270.7 448.0,262.0 448.4,254.3 448.9,249.5 449.5,246.7 450.5,244.4 451.8,249.5 452.4,256.3 452.8,263.0 453.2,271.6 453.5,280.8 453.7,290.9 454.1,303.4 454.3,309.2 454.5,315.0 454.7,320.7 455.1,330.3 455.7,336.1 457.0,340.9 458.5,342.8 459.9,341.8 461.4,337.0 462.4,331.3 463.0,320.7 463.3,315.0 463.7,309.2 464.3,299.6 464.8,291.8 464.9,282.2 465.3,276.4 465.8,270.7 467.2,263.9 469.1,272.0 469.7,278.3 470.2,286.0 470.6,292.3 471.0,299.6 471.4,309.2 471.8,316.9 472.2,324.5 472.8,333.2 473.9,338.0 475.3,341.2 476.8,343.3 479.7,343.7 482.3,343.4 484.0,342.9 485.2,341.0 486.0,339.7 488.0,339.4 490.2,339.6 493.0,340.2 497.7,340.7 503.5,340.5 505.5,339.8 508.4,338.0 511.5,335.6 513.5,334.2 515.2,333.7 516.8,334.6 518.5,336.6 520.7,339.4 522.5,340.8 524.5,341.4 530.7,341.8 541.2,341.0 546.4,341.8 551.7,343.6 557.0,345.0 562.2,345.2 567.5,344.2 572.7,342.6 578.0,340.2 583.2,338.9 588.5,339.7 593.7,341.3 601.6,342.3 608.2,342.1 613.5,341.0 620.0,341.0 625.5,341.8" stroke="#ff0000" stroke-width="0.8" fill="none" stroke-linejoin="round"/>
</g>
<rect x="441.55" y="225.30" width="184.00" height="136.00" fill="none" stroke="#5a5a5a" stroke-width="1"/>
<path d="M441.55,361.30v-2.5M453.05,361.30v-1.4M464.55,361.30v-2.5M476.05,361.30v-1.4M487.55,361.30v-2.5M499.05,361.30v-1.4M510.55,361.30v-2.5M522.05,361.30v-1.4M533.55,361.30v-2.5M545.05,361.30v-1.4M556.55,361.30v-2.5M568.05,361.30v-1.4M579.55,361.30v-2.5M591.05,361.30v-1.4M602.55,361.30v-2.5M614.05,361.30v-1.4M625.55,361.30v-2.5M441.55,235.01h1.4M441.55,244.73h2.5M441.55,254.44h1.4M441.55,264.16h2.5M441.55,273.87h1.4M441.55,283.59h2.5M441.55,293.30h1.4M441.55,303.01h2.5M441.55,312.73h1.4M441.55,322.44h2.5M441.55,332.16h1.4M441.55,341.87h2.5M441.55,351.59h1.4" stroke="#5a5a5a" stroke-width="0.9" fill="none"/>
<text x="424.00" y="411.50" font-size="16.95" text-anchor="start" >(<tspan font-size='14'>d</tspan>)Bedrock bottom point D</text>
</svg>
</body></html>
